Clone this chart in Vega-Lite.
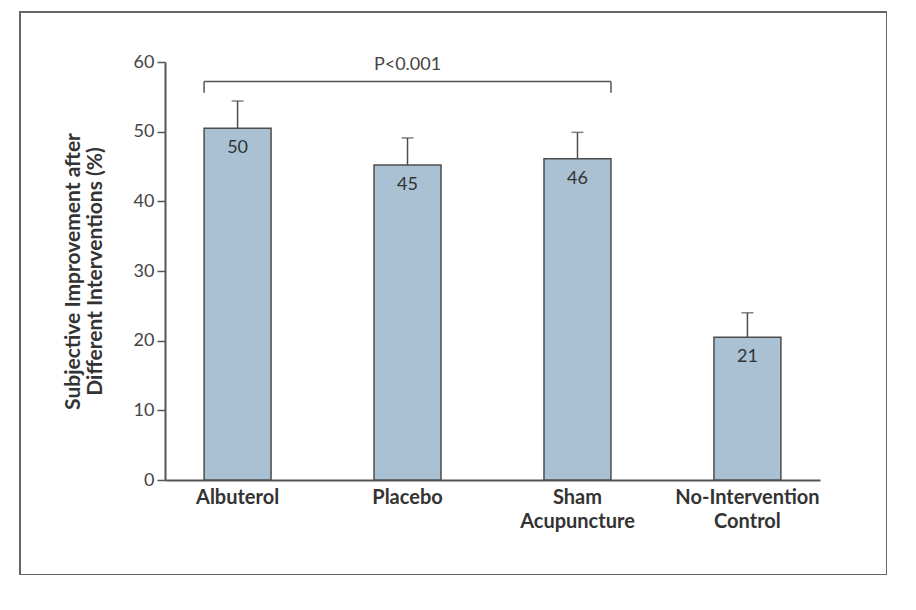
{
  "$schema": "https://vega.github.io/schema/vega-lite/v6.json",
  "width": 867,
  "height": 563,
  "autosize": "none",
  "padding": {"left": 20, "top": 12, "right": 0, "bottom": 0},
  "background": "white",
  "config": {
    "view": {"stroke": "#666666", "strokeWidth": 2},
    "font": "Lato"
  },
  "datasets": {
    "bars": [
      {"group": "Albuterol", "value": 50.5, "upper": 54.4, "label": "50"},
      {"group": "Placebo", "value": 45.2, "upper": 49.1, "label": "45"},
      {"group": "Sham|Acupuncture", "value": 46.1, "upper": 49.9, "label": "46"},
      {"group": "No-Intervention|Control", "value": 20.5, "upper": 24.0, "label": "21"}
    ],
    "bracket": [
      {"from": "Albuterol", "to": "Sham|Acupuncture", "top": 57.2, "low": 55.6, "mid": "Placebo", "text": "P<0.001", "texty": 59.6}
    ]
  },
  "encoding": {
    "x": {
      "field": "group", "type": "nominal", "sort": null, "title": null,
      "scale": {"range": [145, 800], "paddingInner": 0.606, "paddingOuter": 0.23}
    }
  },
  "layer": [
    {
      "data": {"name": "bars"},
      "mark": {"type": "bar", "fill": "#a9c1d3", "stroke": "#4d4d4d", "strokeWidth": 1.5},
      "encoding": {
        "x": {
          "field": "group", "type": "nominal", "sort": null, "title": null,
          "scale": {"range": [145, 800], "paddingInner": 0.606, "paddingOuter": 0.23},
          "axis": {
            "orient": "bottom", "offset": -95, "ticks": false, "labelAngle": 0,
            "domainColor": "#555555", "domainWidth": 2,
            "labelFont": "Lato", "labelFontSize": 20, "labelFontWeight": "bold", "labelColor": "#333333",
            "labelPadding": 7, "labelLineHeight": 24, "labelBaseline": "top",
            "labelExpr": "split(datum.label, '|')"
          }
        },
        "y": {
          "field": "value", "type": "quantitative",
          "scale": {"domain": [0, 60], "range": [468, 50], "nice": false},
          "axis": {
            "orient": "left", "offset": -145, "values": [0, 10, 20, 30, 40, 50, 60], "grid": false,
            "tickSize": 8, "tickColor": "#555555", "tickWidth": 1.5,
            "domainColor": "#555555", "domainWidth": 2,
            "labelFontSize": 18, "labelColor": "#444444", "labelPadding": 3,
            "title": ["Subjective Improvement after", "Different Interventions (%)"],
            "titleFontSize": 21, "titleFontWeight": "bold", "titleColor": "#333333",
            "titlePadding": 28, "titleLineHeight": 22
          }
        }
      }
    },
    {
      "data": {"name": "bars"},
      "mark": {"type": "rule", "stroke": "#4d4d4d", "strokeWidth": 1.5},
      "encoding": {
        "y": {"field": "value", "type": "quantitative"},
        "y2": {"field": "upper"}
      }
    },
    {
      "data": {"name": "bars"},
      "mark": {"type": "tick", "color": "#4d4d4d", "size": 12, "thickness": 1.5},
      "encoding": {
        "y": {"field": "upper", "type": "quantitative"}
      }
    },
    {
      "data": {"name": "bars"},
      "mark": {"type": "text", "fontSize": 18, "color": "#333333", "baseline": "middle", "dy": 20},
      "encoding": {
        "y": {"field": "value", "type": "quantitative"},
        "text": {"field": "label"}
      }
    },
    {
      "data": {"name": "bracket"},
      "mark": {"type": "rule", "stroke": "#555555", "strokeWidth": 1.5},
      "encoding": {
        "x": {"field": "from", "type": "nominal", "sort": null, "bandPosition": 0},
        "x2": {"field": "to", "bandPosition": 1},
        "y": {"field": "top", "type": "quantitative"}
      }
    },
    {
      "data": {"name": "bracket"},
      "mark": {"type": "rule", "stroke": "#555555", "strokeWidth": 1.5},
      "encoding": {
        "x": {"field": "from", "type": "nominal", "sort": null, "bandPosition": 0},
        "y": {"field": "top", "type": "quantitative"},
        "y2": {"field": "low"}
      }
    },
    {
      "data": {"name": "bracket"},
      "mark": {"type": "rule", "stroke": "#555555", "strokeWidth": 1.5},
      "encoding": {
        "x": {"field": "to", "type": "nominal", "sort": null, "bandPosition": 1},
        "y": {"field": "top", "type": "quantitative"},
        "y2": {"field": "low"}
      }
    },
    {
      "data": {"name": "bracket"},
      "mark": {"type": "text", "fontSize": 18, "color": "#444444", "baseline": "middle"},
      "encoding": {
        "x": {"field": "mid", "type": "nominal", "sort": null},
        "y": {"field": "texty", "type": "quantitative"},
        "text": {"field": "text"}
      }
    }
  ]
}
